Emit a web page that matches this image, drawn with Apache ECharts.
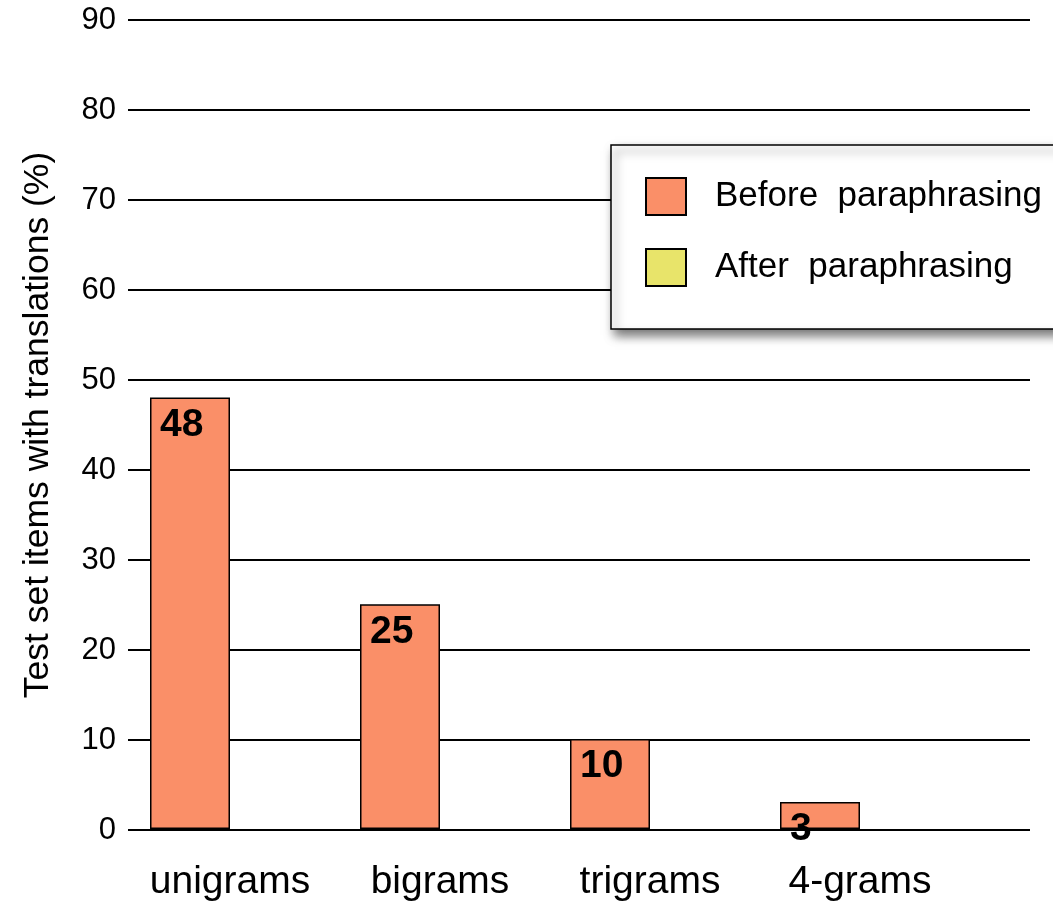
<!DOCTYPE html>
<html>
<head>
  <meta charset="utf-8">
  <title>Test set items with translations</title>
  <style type="text/css">
    html, body { margin: 0; padding: 0; background: #fff; }
    #main { width: 1053px; height: 902px; }
  </style>
</head>
<body>
<div id="main"></div>
<script type="text/javascript" src="https://cdn.jsdelivr.net/npm/echarts@6/dist/echarts.min.js"></script>
<script type="text/javascript">
  var categories = ['unigrams', 'bigrams', 'trigrams', '4-grams'];
  var beforeValues = [48, 25, 10, 3];
  var afterValues = [null, null, null, null];
  var seriesNames = ['Before  paraphrasing', 'After  paraphrasing'];

  var font = 'Liberation Sans';
  var myChart = echarts.init(document.getElementById('main'));

  var option = {
    animation: false,
    backgroundColor: '#fff',
    textStyle: { fontFamily: font },
    legend: {
      orient: 'vertical',
      left: 611,
      top: 145,
      padding: [32, 60, 42, 34],
      itemGap: 32,
      itemWidth: 40,
      itemHeight: 37,
      icon: 'rect',
      backgroundColor: '#fff',
      borderColor: '#000',
      borderWidth: 1.5,
      borderRadius: 0,
      shadowColor: 'rgba(0,0,0,0.55)',
      shadowBlur: 10,
      shadowOffsetX: 4,
      shadowOffsetY: 6,
      textStyle: { fontFamily: font, fontSize: 35, color: '#000', padding: [0, 0, 0, 24] },
      data: seriesNames
    },
    grid: [
      // bars
      { left: 125, right: 88, top: 20, bottom: 72 },
      // horizontal rules and y labels
      { left: 128, right: 23, top: 20, bottom: 72 }
    ],
    xAxis: [
      {
        type: 'category',
        gridIndex: 0,
        data: categories,
        axisLine: { show: false },
        axisTick: { show: false },
        axisLabel: { fontFamily: font, fontSize: 39, color: '#000', margin: 34 }
      },
      { type: 'value', gridIndex: 1, show: false }
    ],
    yAxis: [
      { type: 'value', gridIndex: 0, min: 0, max: 90, interval: 10, show: false },
      {
        type: 'value',
        gridIndex: 1,
        min: 0,
        max: 90,
        interval: 10,
        name: 'Test set items with translations (%)',
        nameLocation: 'middle',
        nameGap: 72,
        nameTextStyle: { fontFamily: font, fontSize: 35.5, color: '#000' },
        axisLine: { show: false },
        axisTick: { show: false },
        axisLabel: { fontFamily: font, fontSize: 31, color: '#000', margin: 12 },
        splitLine: { lineStyle: { color: '#000', width: 2 } }
      }
    ],
    series: [
      {
        name: seriesNames[0],
        type: 'bar',
        xAxisIndex: 0,
        yAxisIndex: 0,
        barWidth: 80,
        barGap: 0,
        data: beforeValues,
        itemStyle: { color: '#FA8F68', borderColor: '#000', borderWidth: 1.5 },
        label: {
          show: true,
          position: [10, 8],
          align: 'left',
          verticalAlign: 'top',
          fontFamily: font,
          fontSize: 39,
          fontWeight: 'bold',
          color: '#000'
        }
      },
      {
        name: seriesNames[1],
        type: 'bar',
        xAxisIndex: 0,
        yAxisIndex: 0,
        barWidth: 80,
        barGap: 0,
        data: afterValues,
        itemStyle: { color: '#E8E46A', borderColor: '#000', borderWidth: 1.5 }
      }
    ]
  };

  myChart.setOption(option);
</script>
</body>
</html>
